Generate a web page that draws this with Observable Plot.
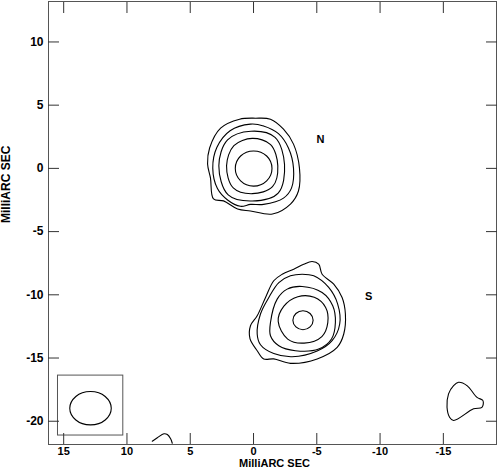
<!DOCTYPE html>
<html>
<head>
<meta charset="utf-8">
<script src="https://cdn.jsdelivr.net/npm/d3@7"></script>
<script src="https://cdn.jsdelivr.net/npm/@observablehq/plot@0.6"></script>
<style>
  html, body { margin: 0; padding: 0; background: #fff; }
  svg { display: block; }
</style>
</head>
<body>
<div id="chart"></div>
<script>
// Axis ticks (milliarcsec; RA offset increases to the left)
const xTicks = [15, 10, 5, 0, -5, -10, -15];
const yTicks = [10, 5, 0, -5, -10, -15, -20];
const xDomain = [16.2, -19.2];
const yDomain = [-21.84, 13.2];
const axisTitle = "MilliARC SEC";

// Component labels
const labels = [
  {text: "N", x: -5.3, y: 2.3},
  {text: "S", x: -9.1, y: -10.15}
];

const northC1 = [[1.44,0.0],[1.02,0.98],[0.0,1.38],[-1.04,0.98],[-1.46,0.0],[-1.04,-0.98],[0.0,-1.40],[1.02,-0.98]];
const northC2 = [[2.13,0.2],[1.55,1.8],[0.1,2.37],[-1.35,1.88],[-1.92,0.2],[-1.5,-1.45],[0.1,-2.0],[1.6,-1.55]];
const northC3 = [[2.74,0.2],[2.05,2.25],[0.2,2.94],[-1.7,2.45],[-2.45,0.3],[-1.95,-1.95],[0.1,-2.58],[2.0,-2.1]];
const northC4 = [[0.24,3.50],[-0.79,3.36],[-1.97,2.75],[-2.76,1.62],[-3.16,0.02],[-3.0,-1.56],[-2.37,-2.35],[-0.79,-2.85],[0.24,-2.85],[1.03,-3.0],[2.05,-2.5],[2.85,-1.6],[3.22,0.02],[2.9,1.65],[1.85,2.98]];
const northC5 = [[1.10,3.89],[-0.16,3.97],[-1.34,3.89],[-2.37,3.10],[-3.16,1.92],[-3.63,0.02],[-3.55,-1.79],[-2.92,-2.82],[-1.50,-3.61],[0.24,-3.37],[1.26,-3.21],[2.37,-2.57],[3.16,-2.42],[3.40,-0.77],[3.63,0.34],[3.47,1.61],[2.60,3.18]];

const southC1 = [[-3.11,-12.01],[-3.35,-11.48],[-3.91,-11.26],[-4.47,-11.48],[-4.71,-12.01],[-4.47,-12.54],[-3.91,-12.76],[-3.35,-12.54]];
const southC2 = [[-1.95,-12.1],[-2.4,-10.9],[-3.5,-10.15],[-4.8,-10.2],[-5.7,-11.0],[-5.87,-12.2],[-5.4,-13.3],[-4.0,-13.82],[-2.7,-13.5]];
const southC3 = [[-1.34,-12.19],[-1.87,-10.34],[-2.66,-9.55],[-3.84,-9.34],[-5.42,-9.82],[-6.26,-10.87],[-6.47,-12.19],[-6.16,-13.50],[-5.15,-14.29],[-3.31,-14.42],[-2.00,-14.03],[-1.34,-13.24]];
const southC4 = [[-4.76,-8.50],[-5.94,-9.42],[-6.65,-10.73],[-6.81,-12.31],[-6.21,-13.63],[-5.03,-14.45],[-3.05,-14.9],[-1.60,-14.65],[-0.55,-13.95],[-0.29,-13.10],[-0.55,-11.52],[-1.21,-10.21],[-2.00,-9.03],[-2.92,-8.50],[-3.84,-8.37]];
const southC5 = [[-4.63,-7.37],[-5.15,-7.58],[-5.42,-8.37],[-6.34,-9.16],[-7.00,-10.21],[-7.26,-11.52],[-7.13,-13.10],[-6.61,-14.16],[-5.03,-15.07],[-2.92,-15.42],[-1.60,-15.07],[-0.81,-15.07],[-0.29,-14.42],[0.28,-13.47],[0.24,-12.45],[-0.29,-11.66],[-0.95,-10.21],[-1.60,-8.89],[-2.27,-8.37],[-3.18,-7.97],[-3.97,-7.58]];

const blobSE = [[-16.20,-16.92],[-16.87,-17.18],[-17.66,-18.11],[-18.13,-18.37],[-18.05,-18.90],[-17.39,-19.02],[-15.81,-19.94],[-15.49,-19.68],[-15.29,-18.90],[-15.41,-17.84],[-15.81,-17.18]];
const beam = [[14.52,-18.97],[14.04,-18.04],[12.88,-17.65],[11.72,-18.04],[11.24,-18.97],[11.72,-19.90],[12.88,-20.29],[14.04,-19.90]];
// open arc at the bottom edge
const arcS = [[8.00,-21.58],[7.60,-21.31],[7.08,-20.99],[6.81,-21.05],[6.55,-21.39],[6.42,-21.74]];
// beam box corners
const beamBox = {x1: 15.45, x2: 10.29, y1: -21.13, y2: -16.39};

const closedRings = {northC1, northC2, northC3, northC4, northC5, southC1, southC2, southC3, southC4, southC5, blobSE, beam};
const ringRows = Object.entries(closedRings).flatMap(([id, pts]) => pts.map(([x, y]) => ({id, x, y})));
const arcRows = arcS.map(([x, y]) => ({x, y}));

const font = "'Liberation Sans', Arial, Helvetica, sans-serif";
const hyphen = d => String(d);

const plot = Plot.plot({
  width: 497,
  height: 471,
  marginLeft: 48,
  marginRight: 1,
  marginTop: 1,
  marginBottom: 27,
  style: {fontFamily: font, fontSize: "12px", fontWeight: "bold", color: "#000", background: "#fff"},
  x: {domain: xDomain},
  y: {domain: yDomain},
  marks: [
    Plot.frame({stroke: "#555"}),
    Plot.rect([beamBox], {x1: "x1", x2: "x2", y1: "y1", y2: "y2", fill: "none", stroke: "#555"}),
    Plot.line(ringRows, {x: "x", y: "y", z: "id", curve: "catmull-rom-closed", stroke: "#000", strokeWidth: 1.1, clip: true}),
    Plot.line(arcRows, {x: "x", y: "y", curve: "catmull-rom", stroke: "#000", strokeWidth: 1.1, clip: true}),
    Plot.axisX(xTicks, {anchor: "bottom", tickSize: -11, tickPadding: 14, tickFormat: hyphen, label: null, stroke: "#333", fill: "#000", fontWeight: "bold", fontSize: 11}),
    Plot.axisX(xTicks, {anchor: "top", tickSize: -11, tickFormat: () => "", label: null, stroke: "#333"}),
    Plot.axisY(yTicks, {anchor: "left", tickSize: -11, tickPadding: 16, tickFormat: hyphen, label: null, stroke: "#333", fill: "#000", fontWeight: "bold", fontSize: 12}),
    Plot.axisY(yTicks, {anchor: "right", tickSize: -11, tickFormat: () => "", label: null, stroke: "#333"}),
    Plot.text(labels, {x: "x", y: "y", text: "text", fontSize: 11, fontWeight: "bold", fill: "#000"}),
    Plot.text([axisTitle], {frameAnchor: "bottom", dy: 22.5, dx: 2, fontSize: 11, fontWeight: "bold", fill: "#000"}),
    Plot.text([axisTitle], {frameAnchor: "left", dx: -42, rotate: -90, fontSize: 12, fontWeight: "bold", fill: "#000"})
  ]
});
document.getElementById("chart").appendChild(plot);
</script>
</body>
</html>
